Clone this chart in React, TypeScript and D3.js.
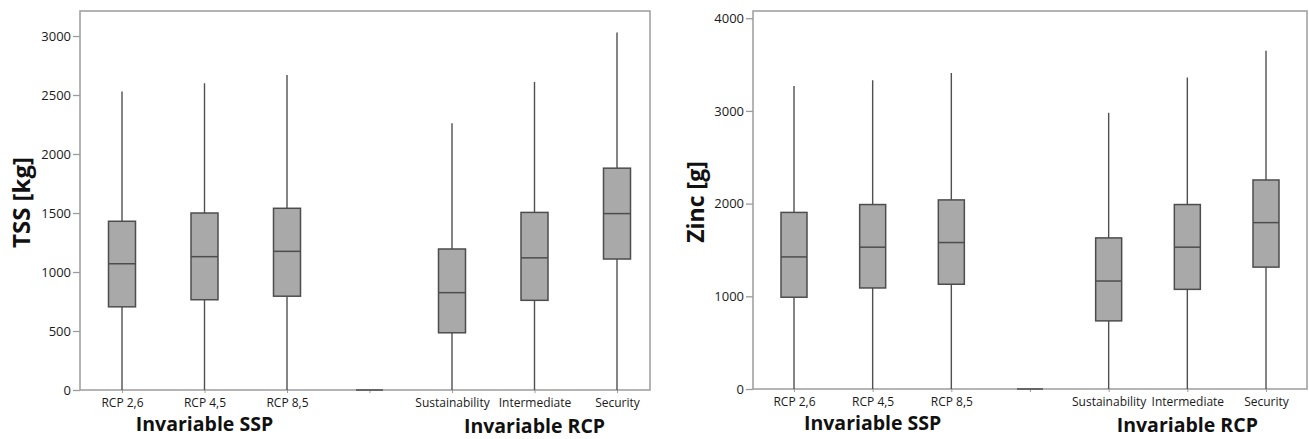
import React, { useEffect, useRef } from 'react';
import * as d3 from 'd3';

// categories on the x axis ('' is the empty spacer slot between the two groups)
const categories = ['RCP 2,6', 'RCP 4,5', 'RCP 8,5', '', 'Sustainability', 'Intermediate', 'Security'];

// TSS [kg]
const tssMin = [0, 0, 0, 0, 0, 0, 0];
const tssQ1 = [705, 765, 795, 0, 485, 760, 1110];
const tssMedian = [1070, 1130, 1175, 0, 825, 1120, 1495];
const tssQ3 = [1430, 1500, 1540, 0, 1195, 1505, 1880];
const tssMax = [2530, 2600, 2670, 0, 2260, 2610, 3030];
const tssTicks = [0, 500, 1000, 1500, 2000, 2500, 3000];

// Zinc [g]
const zincMin = [0, 0, 0, 0, 0, 0, 0];
const zincQ1 = [990, 1090, 1130, 0, 735, 1075, 1315];
const zincMedian = [1425, 1530, 1580, 0, 1165, 1530, 1795];
const zincQ3 = [1905, 1990, 2040, 0, 1630, 1990, 2255];
const zincMax = [3270, 3330, 3410, 0, 2980, 3360, 3650];
const zincTicks = [0, 1000, 2000, 3000, 4000];

const groupLabels = ['Invariable SSP', 'Invariable RCP'];

const FONT = '"Open Sans", "DejaVu Sans", sans-serif';

type Panel = {
  label: string;
  left: number; right: number; top: number; bottom: number;
  xPad: [number, number];
  yMax: number;
  ticks: number[];
  min: number[]; q1: number[]; med: number[]; q3: number[]; max: number[];
  labelX: number; labelSize: number;
  boxW: number;
};

const panels: Panel[] = [
  {
    label: 'TSS [kg]', left: 80, right: 650, top: 11, bottom: 390, xPad: [42, 33],
    yMax: 3212, ticks: tssTicks,
    min: tssMin, q1: tssQ1, med: tssMedian, q3: tssQ3, max: tssMax,
    labelX: 30, labelSize: 24, boxW: 27,
  },
  {
    label: 'Zinc [g]', left: 753, right: 1307, top: 11, bottom: 389, xPad: [41, 41],
    yMax: 4078, ticks: zincTicks,
    min: zincMin, q1: zincQ1, med: zincMedian, q3: zincQ3, max: zincMax,
    labelX: 704, labelSize: 23, boxW: 26,
  },
];

function drawPanel(svg: d3.Selection<SVGSVGElement, unknown, null, undefined>, p: Panel) {
  const x = d3.scalePoint<string>()
    .domain(categories)
    .range([p.left + p.xPad[0], p.right - p.xPad[1]]);
  const y = d3.scaleLinear().domain([0, p.yMax]).range([p.bottom, p.top]);

  const g = svg.append('g');

  // frame
  g.append('rect')
    .attr('x', p.left).attr('y', p.top)
    .attr('width', p.right - p.left).attr('height', p.bottom - p.top)
    .attr('fill', 'none').attr('stroke', '#9c9c9c').attr('stroke-width', 1.5);

  // y axis
  const yAxis = d3.axisLeft(y).tickValues(p.ticks).tickSize(7).tickPadding(2).tickFormat(d3.format('d'));
  const ya = g.append('g').attr('transform', `translate(${p.left},0)`).call(yAxis);
  ya.select('.domain').remove();
  ya.selectAll('line').attr('stroke', '#9c9c9c').attr('stroke-width', 1.3);
  ya.selectAll('text').attr('font-family', FONT).attr('font-size', 13).attr('fill', '#1a1a1a');

  // x axis ticks + labels
  const xAxis = d3.axisBottom(x).tickSize(3).tickPadding(5);
  const xa = g.append('g').attr('transform', `translate(0,${p.bottom})`).call(xAxis);
  xa.select('.domain').remove();
  xa.selectAll('line').attr('stroke', '#9c9c9c');
  xa.selectAll('text').attr('font-family', FONT).attr('font-size', 12).attr('fill', '#1a1a1a');

  // boxes
  const rows = categories.map((c, i) => ({ c, min: p.min[i], q1: p.q1[i], med: p.med[i], q3: p.q3[i], max: p.max[i] }));
  const box = g.selectAll('g.box').data(rows).enter().append('g').attr('class', 'box');
  box.append('line')
    .attr('x1', d => x(d.c)!).attr('x2', d => x(d.c)!)
    .attr('y1', d => y(d.min)).attr('y2', d => y(d.max))
    .attr('stroke', '#505050').attr('stroke-width', 1.4);
  box.append('rect')
    .attr('x', d => x(d.c)! - p.boxW / 2).attr('width', p.boxW)
    .attr('y', d => y(d.q3)).attr('height', d => y(d.q1) - y(d.q3))
    .attr('fill', '#a9a9a9').attr('stroke', '#4d4d4d').attr('stroke-width', 1.5);
  box.append('line')
    .attr('x1', d => x(d.c)! - p.boxW / 2).attr('x2', d => x(d.c)! + p.boxW / 2)
    .attr('y1', d => y(d.med)).attr('y2', d => y(d.med))
    .attr('stroke', '#4d4d4d').attr('stroke-width', 1.5);

  // y title
  g.append('text')
    .attr('transform', `translate(${p.labelX},${(p.top + p.bottom) / 2 + 2}) rotate(-90)`)
    .attr('text-anchor', 'middle')
    .attr('font-family', FONT).attr('font-weight', 700).attr('font-size', p.labelSize)
    .attr('fill', '#111')
    .text(p.label);

  // group titles
  const ssp = x(categories[1])!;
  const rcp = (x(categories[4])! + x(categories[6])!) / 2;
  g.append('text')
    .attr('x', ssp).attr('y', p.bottom + 41)
    .attr('text-anchor', 'middle')
    .attr('font-family', FONT).attr('font-weight', 700).attr('font-size', 19.5)
    .attr('fill', '#111').text(groupLabels[0]);
  g.append('text')
    .attr('x', rcp).attr('y', p.bottom + 43)
    .attr('text-anchor', 'middle')
    .attr('font-family', FONT).attr('font-weight', 700).attr('font-size', 19.5)
    .attr('fill', '#111').text(groupLabels[1]);
}

export default function App() {
  const ref = useRef<SVGSVGElement>(null);

  useEffect(() => {
    const svg = d3.select(ref.current!);
    svg.selectAll('*').remove();
    panels.forEach(p => drawPanel(svg, p));
  }, []);

  return (
    <svg
      ref={ref}
      width={1309}
      height={439}
      style={{ position: 'absolute', left: 0, top: 0, background: '#fff' }}
    />
  );
}
